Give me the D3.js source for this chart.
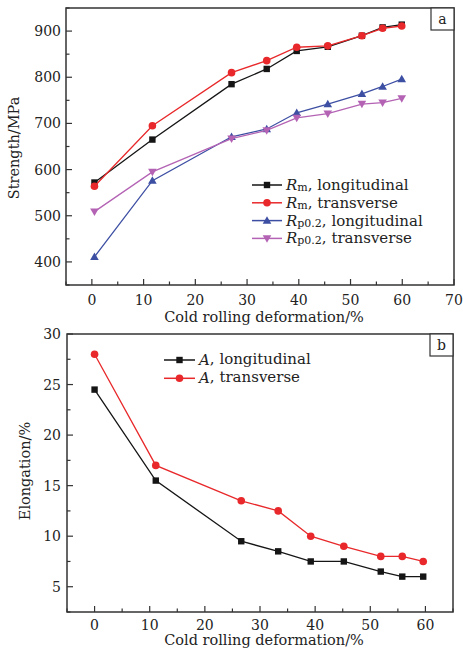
<!DOCTYPE html>
<html><head><meta charset="utf-8">
<script src="https://cdn.jsdelivr.net/npm/d3@7/dist/d3.min.js"></script>
<style>body{margin:0;background:#fff;} svg{display:block;} text{font-family:"DejaVu Serif",serif;fill:#222;}</style>
</head><body>
<svg id="c" width="463" height="652"></svg>
<script>
// ---- Data ----
const xTop = [0.5, 11.7, 27, 33.8, 39.6, 45.6, 52.2, 56.2, 59.9];
const rmLong = [572, 665, 785, 818, 857, 866, 890, 908, 914];
const rmTrans = [564, 695, 810, 836, 865, 868, 890, 906, 911];
const rpLong = [411, 576, 671, 688, 723, 742, 764, 780, 796];
const rpTrans = [509, 595, 667, 685, 712, 721, 742, 745, 754];
const xBot = [0, 11.1, 26.6, 33.3, 39.2, 45.2, 51.9, 55.8, 59.6];
const aLong = [24.5, 15.5, 9.5, 8.5, 7.5, 7.5, 6.5, 6, 6];
const aTrans = [28, 17, 13.5, 12.5, 10, 9, 8, 8, 7.5];
const topXTicks = [0,10,20,30,40,50,60,70];
const topYTicks = [400,500,600,700,800,900];
const botXTicks = [0,10,20,30,40,50,60];
const botYTicks = [5,10,15,20,25,30];

const C = {black:"#151515", red:"#e8282a", blue:"#3d4fa3", purple:"#b463b4"};
const svg = d3.select("#c");

function marker(g, type, x, y, color){
  if(type==="square") g.append("rect").attr("x",x-3.2).attr("y",y-3.2).attr("width",6.4).attr("height",6.4).attr("fill",color);
  else if(type==="circle") g.append("circle").attr("cx",x).attr("cy",y).attr("r",3.8).attr("fill",color);
  else if(type==="up") g.append("path").attr("d",`M${x},${y-4.3}L${x+4.3},${y+3.2}L${x-4.3},${y+3.2}Z`).attr("fill",color);
  else if(type==="down") g.append("path").attr("d",`M${x},${y+4.3}L${x+4.3},${y-3.2}L${x-4.3},${y-3.2}Z`).attr("fill",color);
}

function panel(opt){
  const g = svg.append("g");
  const x = d3.scaleLinear().domain(opt.xd).range(opt.xr);
  const y = d3.scaleLinear().domain(opt.yd).range(opt.yr);
  const [x0,x1]=opt.xr, [y0,y1]=[opt.yr[1],opt.yr[0]];
  // ticks inward
  const ax = g.append("g").attr("stroke","#333").attr("stroke-width",1.2);
  d3.range(opt.xd[0], opt.xd[1]+0.001, opt.xMinor).forEach(v=>{
    const major = opt.xTicks.includes(v);
    ax.append("line").attr("x1",x(v)).attr("x2",x(v)).attr("y1",y1).attr("y2",y1-(major?6:3.5));
  });
  d3.range(opt.yd[0], opt.yd[1]+0.001, opt.yMinor).forEach(v=>{
    const major = opt.yTicks.includes(v);
    ax.append("line").attr("y1",y(v)).attr("y2",y(v)).attr("x1",x0).attr("x2",x0+(major?6:3.5));
  });
  g.selectAll(".xt").data(opt.xTicks).join("text").attr("x",d=>x(d)).attr("y",opt.xLabY)
    .attr("text-anchor","middle").attr("font-size",14).text(d=>d);
  g.selectAll(".yt").data(opt.yTicks).join("text").attr("x",61).attr("y",d=>y(d)+5)
    .attr("text-anchor","end").attr("font-size",14).text(d=>d);
  g.append("text").attr("x",(x0+x1)/2+4).attr("y",opt.xTitleY).attr("text-anchor","middle")
    .attr("font-size",14.5).text("Cold rolling deformation/%");
  g.append("text").attr("transform",`translate(${opt.yTitleX},${opt.yTitleC}) rotate(-90)`)
    .attr("text-anchor","middle").attr("font-size",14.5).text(opt.yTitle);
  // series
  const line = d3.line().x(d=>x(d[0])).y(d=>y(d[1]));
  opt.series.forEach(s=>{
    const pts = opt.xs.map((xv,i)=>[xv,s.v[i]]);
    g.append("path").attr("d",line(pts)).attr("fill","none").attr("stroke",s.c).attr("stroke-width",1.3);
    pts.forEach(p=>marker(g,s.m,x(p[0]),y(p[1]),s.c));
  });
  // frame
  g.append("rect").attr("x",x0).attr("y",y0).attr("width",x1-x0).attr("height",y1-y0)
    .attr("fill","none").attr("stroke","#333").attr("stroke-width",1.5);
  // label box
  g.append("rect").attr("x",x1-23).attr("y",y0).attr("width",23).attr("height",22)
    .attr("fill","#fff").attr("stroke","#333").attr("stroke-width",1.2);
  g.append("text").attr("x",x1-11.5).attr("y",y0+16).attr("text-anchor","middle").attr("font-size",14).text(opt.tag);
  // legend
  opt.series.forEach((s,i)=>{
    const ly = opt.leg.y + i*opt.leg.dy;
    g.append("line").attr("x1",opt.leg.x0).attr("x2",opt.leg.x1).attr("y1",ly).attr("y2",ly).attr("stroke",s.c).attr("stroke-width",1.5);
    marker(g,s.m,(opt.leg.x0+opt.leg.x1)/2,ly,s.c);
    const t = g.append("text").attr("x",opt.leg.x1+4).attr("y",ly+5).attr("font-size",15);
    t.append("tspan").attr("font-style","italic").text(s.sym);
    t.append("tspan").attr("font-size",11).attr("dy",1).text(s.sub);
    t.append("tspan").attr("dy",-1).text(s.label);
  });
}

panel({
  xd:[-5,70], xr:[66,454], yd:[350,950], yr:[285,8],
  xTicks:topXTicks, yTicks:topYTicks, xMinor:5, yMinor:50,
  xLabY:305, xTitleY:322, yTitle:"Strength/MPa", yTitleX:19, yTitleC:148,
  xs:xTop, tag:"a",
  series:[
    {v:rmLong,c:C.black,m:"square",sym:"R",sub:"m",label:", longitudinal"},
    {v:rmTrans,c:C.red,m:"circle",sym:"R",sub:"m",label:", transverse"},
    {v:rpLong,c:C.blue,m:"up",sym:"R",sub:"p0.2",label:", longitudinal"},
    {v:rpTrans,c:C.purple,m:"down",sym:"R",sub:"p0.2",label:", transverse"}
  ],
  leg:{x0:252,x1:282,y:185,dy:17.8}
});
panel({
  xd:[-5,65], xr:[67,453], yd:[2.5,30], yr:[612,334],
  xTicks:botXTicks, yTicks:botYTicks, xMinor:5, yMinor:2.5,
  xLabY:630, xTitleY:645, yTitle:"Elongation/%", yTitleX:30, yTitleC:471,
  xs:xBot, tag:"b",
  series:[
    {v:aLong,c:C.black,m:"square",sym:"A",sub:"",label:", longitudinal"},
    {v:aTrans,c:C.red,m:"circle",sym:"A",sub:"",label:", transverse"}
  ],
  leg:{x0:164,x1:195,y:360,dy:18.3}
});
</script>
</body></html>
